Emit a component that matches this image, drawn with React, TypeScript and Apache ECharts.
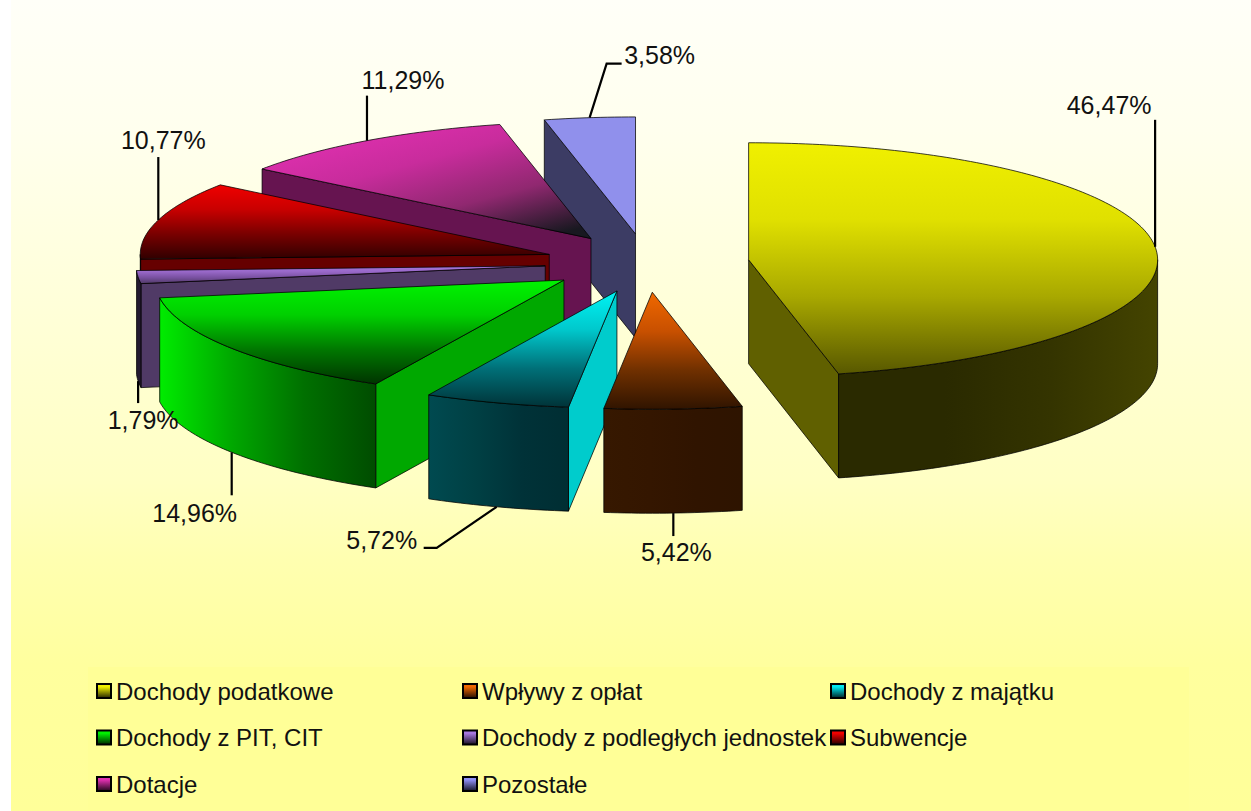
import React, { useEffect, useRef } from "react";
import * as echarts from "echarts";

const categories = [
  "Dochody podatkowe",
  "Wpływy z opłat",
  "Dochody z majątku",
  "Dochody z PIT, CIT",
  "Dochody z podległych jednostek",
  "Subwencje",
  "Dotacje",
  "Pozostałe",
];
const shares = [46.47, 5.42, 5.72, 14.96, 1.79, 10.77, 11.29, 3.58];

// painter's order, back to front (indices into categories)
const drawOrder = [7, 6, 5, 4, 3, 2, 1, 0];

// pie projection
const CX = 647, CY = 263, RX = 409, RY = 117, DEPTH = 104, EXPLODE = 0.25;

type Stops = string[];
const topStops: Stops[] = [
  ["#F0F000", "#E0E000", "#A8A800", "#585800"],
  ["#F06800", "#C85000", "#703000", "#301400"],
  ["#00F4F4", "#00C8CC", "#007078", "#003338"],
  ["#00F400", "#00D000", "#007800", "#003400"],
  ["#A878E0", "#9868C8", "#7850A0", "#503A66"],
  ["#F00000", "#C80000", "#780000", "#300000"],
  ["#E030B0", "#C82C9C", "#902870", "#181820"],
  ["#9090EC", "#9090EC", "#9090EC", "#9090EC"],
];
const topDirection = [
  [0, 0, 0, 1], [0, 0, 0, 1], [0, 0, 0, 1], [0, 0, 0, 1],
  [0, 0, 0, 1], [0, 0, 0, 1], [0.15, 0.1, 0.85, 1], [0, 0, 0, 1],
];
const cutColors = ["#606000", "#331500", "#00CCCC", "#00A800", "#503A66", "#660000", "#661450", "#3C3C64"];
const wallStops: Stops[] = [
  ["#2A2A00", "#2A2A00", "#343400", "#444400"],
  ["#361800", "#341600", "#301400", "#2E1400"],
  ["#004A50", "#004044", "#003238", "#002E33"],
  ["#00EC00", "#00A800", "#007000", "#004C00"],
  ["#241A30", "#241A30", "#241A30", "#241A30"],
  ["#6A0000", "#660000", "#660000", "#660000"],
  ["#661450", "#661450", "#661450", "#661450"],
  ["#3C3C64", "#3C3C64", "#3C3C64", "#3C3C64"],
];
const legendFills = ["#F0F000", "#F06800", "#00E8F0", "#00F000", "#A878E0", "#F00000", "#E030B0", "#9090F4"];

// leader elbows relative to the slice's rim anchor, and label centre relative to the last point
const leaderBends: number[][][] = [
  [[0, -127]],
  [[0, 23]],
  [[-60, 41], [-73, 41]],
  [[0, 43]],
  [[0, 22]],
  [[0, -63]],
  [[0, -45]],
  [[17, -54], [32, -54]],
];
const labelOffsets = [
  [-46, -15], [3, 16], [-42, -8], [-37, 18], [5, 17], [5, -17], [36, -16], [38, -9],
];

const rad = (d: number) => (d * Math.PI) / 180;
const bounds: number[] = [0];
shares.forEach((s, i) => bounds.push(bounds[i] + (s / 100) * 360));

function apex(i: number) {
  const mid = rad((bounds[i] + bounds[i + 1]) / 2);
  return [CX + EXPLODE * RX * Math.sin(mid), CY - EXPLODE * RY * Math.cos(mid)];
}
function rimPoint(a: number[], deg: number, dy = 0) {
  return [a[0] + RX * Math.sin(rad(deg)), a[1] - RY * Math.cos(rad(deg)) + dy];
}
function arc(a: number[], from: number, to: number, dy = 0) {
  const n = Math.max(2, Math.ceil(Math.abs(to - from)));
  const pts: number[][] = [];
  for (let k = 0; k <= n; k++) pts.push(rimPoint(a, from + ((to - from) * k) / n, dy));
  return pts;
}
function grad(stops: Stops, d = [0, 0, 0, 1]) {
  return new echarts.graphic.LinearGradient(
    d[0], d[1], d[2], d[3],
    stops.map((color, k) => ({ offset: k / (stops.length - 1), color }))
  );
}

const EDGE = { stroke: "rgba(0,0,0,0.75)", lineWidth: 1, lineJoin: "round" };

function sliceRender(i: number) {
  return () => {
    const a = apex(i);
    const t1 = bounds[i];
    const t2 = bounds[i + 1];
    const children: any[] = [];
    const face = (points: number[][], fill: any) =>
      children.push({ type: "polygon", shape: { points }, style: { fill, ...EDGE } });
    const cut = (deg: number) => {
      const p = rimPoint(a, deg);
      face([a, p, [p[0], p[1] + DEPTH], [a[0], a[1] + DEPTH]], cutColors[i]);
    };
    if (Math.sin(rad(t1)) < -1e-6) cut(t1);
    if (Math.sin(rad(t2)) > 1e-6) cut(t2);
    const w1 = Math.max(t1, 90);
    const w2 = Math.min(t2, 270);
    if (w2 > w1) {
      const upper = arc(a, w1, w2);
      const lower = arc(a, w2, w1, DEPTH);
      const stops = wallStops[i];
      // walls are shaded left-to-right across the screen
      face(upper.concat(lower), grad(stops, [0, 0, 1, 0]));
    }
    face([a, ...arc(a, t1, t2)], grad(topStops[i], topDirection[i]));
    return { type: "group", children };
  };
}

function labelRender(params: any) {
  const i = params.dataIndex;
  const mid = (bounds[i] + bounds[i + 1]) / 2;
  const front = Math.cos(rad(mid)) < 0;
  const start = rimPoint(apex(i), mid, front ? DEPTH : 0);
  const pts = [start, ...leaderBends[i].map((o) => [start[0] + o[0], start[1] + o[1]])];
  const last = pts[pts.length - 1];
  return {
    type: "group",
    children: [
      { type: "polyline", shape: { points: pts }, style: { fill: "none", stroke: "#000", lineWidth: 2.2 } },
      {
        type: "text",
        x: last[0] + labelOffsets[i][0],
        y: last[1] + labelOffsets[i][1],
        style: {
          text: shares[i].toFixed(2).replace(".", ",") + "%",
          fill: "#111",
          font: '25px "Liberation Sans", Arial, sans-serif',
          align: "center",
          verticalAlign: "middle",
        },
      },
    ],
  };
}

const legendColumns = [[0, 3, 6], [1, 4, 7], [2, 5]];
const legendLefts = [96, 462, 830];

export default function App() {
  const ref = useRef<HTMLDivElement>(null);
  useEffect(() => {
    document.body.style.margin = "0";
    const chart = echarts.init(ref.current!, undefined, { renderer: "svg" });
    chart.setOption({
      animation: false,
      graphic: [
        {
          type: "rect", z: -2, silent: true,
          shape: { x: 11, y: 0, width: 1240, height: 811 },
          style: {
            fill: new echarts.graphic.LinearGradient(0, 0, 0, 1, [
              { offset: 0, color: "#FFFFF8" },
              { offset: 0.16, color: "#FFFFEE" },
              { offset: 0.59, color: "#FFFFC4" },
              { offset: 0.69, color: "#FFFFB0" },
              { offset: 0.82, color: "#FFFF9E" },
              { offset: 1, color: "#FFFF99" },
            ]),
          },
        },
        {
          type: "rect", z: -1, silent: true,
          shape: { x: 88, y: 667, width: 1101, height: 144 },
          style: { fill: "#FFFF97" },
        },
      ],
      legend: legendColumns.map((col, c) => ({
        show: true,
        orient: "vertical",
        left: legendLefts[c],
        top: 679,
        padding: 0,
        itemWidth: 14,
        itemHeight: 14,
        itemGap: 22.5,
        selectedMode: false,
        textStyle: { fontFamily: '"Liberation Sans", Arial, sans-serif', fontSize: 24, color: "#111" },
        data: col.map((i) => ({
          name: categories[i],
          icon: "rect",
          itemStyle: {
            color: grad([legendFills[i], "#000000"], [0, 0.2, 0, 1.15]),
            borderColor: "#000",
            borderWidth: 2,
          },
        })),
      })),
      series: [
        ...drawOrder.map((i) => ({
          type: "custom",
          name: categories[i],
          coordinateSystem: "none",
          silent: true,
          data: [[shares[i]]],
          renderItem: sliceRender(i),
        })),
        {
          type: "custom",
          name: "Etykiety",
          coordinateSystem: "none",
          silent: true,
          z: 5,
          data: shares.map((s) => [s]),
          renderItem: labelRender,
        },
      ],
    });
    return () => chart.dispose();
  }, []);
  return <div ref={ref} style={{ position: "absolute", left: 0, top: 0, width: 1251, height: 811 }} />;
}
